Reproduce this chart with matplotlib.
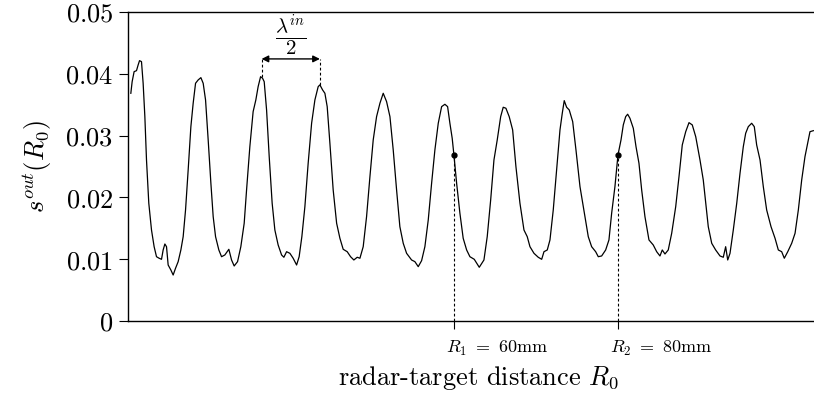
import numpy as np
import matplotlib
matplotlib.use("Agg")
import matplotlib.pyplot as plt

plt.rcParams["mathtext.fontset"] = "cm"
plt.rcParams["font.family"] = "serif"
plt.rcParams["font.serif"] = ["DejaVu Serif"]

# distance R0 in mm, measured output in units of 1e-3
r0_mm = [20.61, 20.77, 21.01, 21.30, 21.50, 21.67, 21.91, 22.11, 22.32, 22.52, 22.80, 23.13,
         23.45, 23.74, 24.06, 24.35, 24.55, 24.76, 24.96, 25.16, 25.49, 25.77, 26.06, 26.38,
         26.71, 26.99, 27.28, 27.60, 27.93, 28.21, 28.50, 28.82, 29.15, 29.43, 29.72, 30.04,
         30.37, 30.65, 30.94, 31.34, 31.67, 32.07, 32.56, 32.89, 33.21, 33.62, 34.02, 34.43,
         34.72, 35.12, 35.52, 35.85, 36.13, 36.43, 36.67, 36.87, 37.16, 37.48, 37.84, 38.17,
         38.57, 38.99, 39.27, 39.60, 40.00, 40.40, 40.82, 41.13, 41.46, 41.83, 42.23, 42.65,
         43.05, 43.45, 43.66, 43.99, 44.27, 44.55, 44.88, 45.28, 45.70, 46.10, 46.50, 46.99,
         47.40, 47.80, 48.21, 48.54, 48.94, 49.35, 49.76, 50.16, 50.57, 50.98, 51.38, 51.79,
         52.20, 52.60, 53.01, 53.41, 53.82, 54.23, 54.84, 55.24, 55.65, 56.06, 56.46, 56.87,
         57.28, 57.68, 58.09, 58.50, 58.90, 59.23, 59.51, 59.79, 60.00, 60.33, 60.73, 61.13,
         61.55, 61.95, 62.48, 63.09, 63.66, 64.06, 64.48, 64.88, 65.28, 65.70, 66.01, 66.34,
         66.74, 67.16, 67.56, 68.05, 68.54, 68.94, 69.27, 69.76, 70.28, 70.70, 70.98, 71.38,
         71.71, 72.11, 72.52, 72.93, 73.21, 73.45, 73.74, 74.06, 74.48, 74.88, 75.37, 75.98,
         76.38, 76.79, 77.28, 77.60, 78.01, 78.50, 78.90, 79.23, 79.63, 80.00, 80.37, 80.65,
         80.94, 81.18, 81.46, 81.87, 82.20, 82.56, 82.89, 83.29, 83.78, 84.30, 84.72, 85.12,
         85.40, 85.73, 86.13, 86.55, 87.04, 87.44, 87.84, 88.26, 88.66, 89.06, 89.48, 90.00,
         90.40, 91.01, 91.43, 91.91, 92.44, 92.84, 93.13, 93.38, 93.66, 94.06, 94.48, 94.88,
         95.28, 95.57, 95.89, 96.30, 96.62, 96.91, 97.32, 97.72, 98.13, 98.66, 99.15, 99.55,
         99.96, 100.28, 100.70, 101.18, 101.59, 101.99, 102.40, 102.80, 103.13, 103.41, 103.82]
s_out = [36.84, 38.72, 40.34, 40.50, 41.42, 42.12, 41.96, 38.46, 33.06, 26.05, 19.05, 14.72,
         12.02, 10.40, 10.15, 9.98, 11.49, 12.46, 12.02, 9.06, 8.25, 7.44, 8.53, 9.60,
         11.49, 13.64, 17.96, 24.43, 31.44, 35.23, 38.46, 39.00, 39.37, 38.46, 35.76, 29.29,
         22.28, 16.88, 13.64, 11.49, 10.40, 10.68, 11.60, 9.87, 8.90, 9.60, 12.02, 15.81,
         21.20, 28.20, 33.87, 35.76, 37.91, 39.53, 39.27, 38.72, 34.14, 26.59, 19.05, 14.72,
         12.30, 10.68, 10.31, 11.21, 10.95, 10.15, 9.06, 10.40, 13.64, 18.50, 25.52, 31.99,
         35.76, 37.91, 38.20, 37.38, 36.84, 34.68, 28.75, 21.20, 15.81, 13.38, 11.60, 11.21,
         10.40, 9.87, 10.31, 10.15, 12.02, 16.88, 23.35, 29.29, 33.06, 35.23, 36.84, 35.49,
         33.06, 27.67, 21.20, 15.26, 12.57, 10.95, 9.87, 9.60, 8.79, 9.76, 12.02, 16.34,
         22.28, 27.67, 31.99, 34.68, 35.06, 34.68, 31.99, 29.56, 26.86, 22.28, 17.43, 13.38,
         11.49, 10.40, 9.98, 8.69, 9.87, 13.64, 19.58, 26.05, 29.29, 33.06, 34.58, 34.42,
         33.06, 30.91, 24.97, 19.05, 14.72, 13.64, 12.02, 10.95, 10.31, 9.98, 11.21, 11.49,
         13.11, 17.96, 24.43, 30.91, 33.61, 35.65, 34.58, 34.14, 32.25, 27.67, 21.73, 16.88,
         13.64, 12.02, 11.21, 10.40, 10.52, 11.49, 13.11, 17.43, 21.73, 26.86, 29.29, 31.72,
         33.06, 33.45, 32.80, 31.18, 28.20, 25.52, 21.20, 16.88, 13.11, 12.30, 11.21, 10.52,
         11.49, 10.84, 11.49, 14.19, 18.50, 23.35, 28.48, 30.63, 32.09, 31.72, 29.82, 26.05,
         22.82, 15.26, 12.57, 11.49, 10.52, 10.31, 12.02, 9.87, 10.95, 14.72, 19.05, 23.90,
         28.20, 30.37, 31.44, 31.99, 31.44, 28.48, 26.05, 21.73, 17.96, 15.26, 13.38, 11.49,
         11.21, 10.15, 11.21, 12.57, 14.19, 17.96, 22.82, 26.59, 28.75, 30.63, 30.79]

marked_r = [60, 80]
marked_labels = [r"$R_1\ =\ 60\mathrm{mm}$", r"$R_2\ =\ 80\mathrm{mm}$"]
marked_s = [26.86, 26.86]

# peaks used for the lambda/2 annotation
half_wave_r = [36.55, 43.66]
half_wave_peak = [39.53, 38.20]
arrow_level = 42.4

yticks = [0, 0.01, 0.02, 0.03, 0.04, 0.05]
ytick_labels = ["$0$", "$0.01$", "$0.02$", "$0.03$", "$0.04$", "$0.05$"]

x = np.array(r0_mm)
y = np.array(s_out) * 1e-3

fig = plt.figure(figsize=(8.14, 3.98), dpi=100)
ax = fig.add_axes([0.157, 0.1935, 0.843, 0.7765])

ax.plot(x, y, color="black", lw=0.9)

# markers and dashed drop lines
for r, s in zip(marked_r, marked_s):
    ax.plot([r, r], [0, s * 1e-3], color="black", lw=0.8, ls=(0, (2.5, 2)))
    ax.plot(r, s * 1e-3, "o", color="black", ms=3.5)

# lambda/2 annotation
for r, p in zip(half_wave_r, half_wave_peak):
    ax.plot([r, r], [p * 1e-3, arrow_level * 1e-3], color="black", lw=0.8, ls=(0, (2.5, 2)))
ax.annotate("", xy=(half_wave_r[0], arrow_level * 1e-3), xytext=(half_wave_r[1], arrow_level * 1e-3),
            arrowprops=dict(arrowstyle="<|-|>", color="black", lw=1.0, mutation_scale=10,
                            shrinkA=0, shrinkB=0))
ax.text(np.mean(half_wave_r), 0.0463, r"$\dfrac{\lambda^{in}}{2}$", ha="center", va="center", fontsize=15)

ax.set_xlim(20.24, 103.9)
ax.set_ylim(0, 0.05)
ax.set_yticks(yticks)
ax.set_yticklabels(ytick_labels, fontsize=19)
ax.set_xticks(marked_r)
ax.set_xticklabels([])
ax.tick_params(axis="y", direction="out", length=6.5, width=0.8, pad=4)
ax.tick_params(axis="x", direction="out", length=6, width=0.8)
for r, lab in zip(marked_r, marked_labels):
    ax.text(r - 0.95, -0.09, lab, transform=ax.get_xaxis_transform(),
            ha="left", va="center", fontsize=13)

ax.spines["right"].set_visible(False)
for side in ["left", "bottom", "top"]:
    ax.spines[side].set_linewidth(1.0)

ax.text(0.512, -0.185, r"$\text{radar-target distance }R_0$", transform=ax.transAxes,
        ha="center", va="center", fontsize=19)
ax.set_ylabel(r"$s^{out}(R_0)$", fontsize=19, labelpad=8)

fig.savefig("out.png", dpi=100)
